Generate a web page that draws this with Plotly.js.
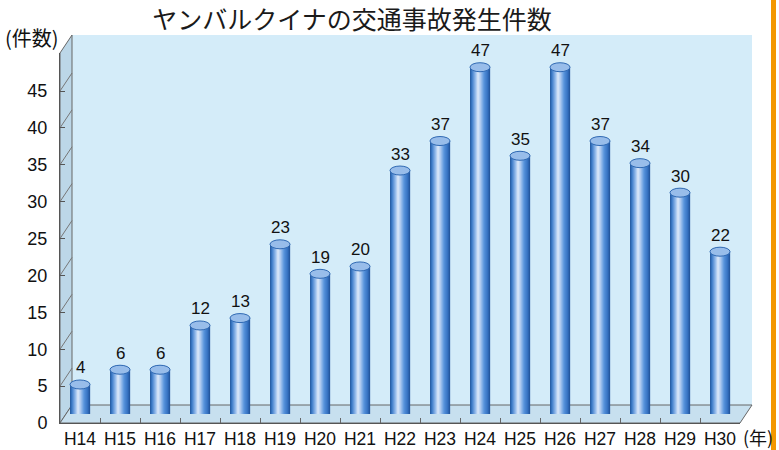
<!DOCTYPE html>
<html><head><meta charset="utf-8">
<script src="https://cdn.plot.ly/plotly-3.0.1.min.js"></script>
<style>html,body{margin:0;padding:0;background:#fff}#chart{width:779px;height:450px}</style>
</head><body><div id="chart"></div>
<script>
// ---- data ----
const years = ['H14','H15','H16','H17','H18','H19','H20','H21','H22','H23','H24','H25','H26','H27','H28','H29','H30'];
const counts = [4,6,6,12,13,23,19,20,33,37,47,35,47,37,34,30,22];
const yTicks = [0,5,10,15,20,25,30,35,40,45];
const titleText = 'ヤンバルクイナの交通事故発生件数';
const yUnitLabel = '(件数)';
const xUnitLabel = '(年)';

// ---- geometry / style ----
const W = 779, H = 450;
const FL = 60, FR = 740, FB = 423, FT = 53;   // front plane (px)
const DX = 12, DY = 18;                        // depth offset (px)
const MY = 9;                                  // bars sit at mid depth
const S = 332 / 45;                            // px per unit
const yMax = (FB - FT) / S;
const barW = 0.5;
const ry = 4.5 / S;
const px = x => x / W, py = y => 1 - y / H;
const font = 'Liberation Sans, Arial, Noto Sans CJK JP, sans-serif';
const jpFont = 'Noto Sans CJK JP, sans-serif';

const stops = [[0,'#22569c'],[0.1,'#3d7cc9'],[0.28,'#98bdec'],[0.4,'#dde9f9'],[0.52,'#afcbf0'],[0.7,'#5894dc'],[0.88,'#3571c0'],[1,'#1f5298']];
function hex(c){return [1,3,5].map(i=>parseInt(c.substr(i,2),16));}
function grad(t){
  for(let i=0;i<stops.length-1;i++){
    const [t0,c0]=stops[i],[t1,c1]=stops[i+1];
    if(t>=t0&&t<=t1){const f=(t-t0)/(t1-t0);const a=hex(c0),b=hex(c1);
      return 'rgb('+a.map((v,j)=>Math.round(v+(b[j]-v)*f)).join(',')+')';}
  }
  return stops[stops.length-1][1];
}
const N = 20;
const traces = [];
for(let k=0;k<N;k++){
  traces.push({type:'bar', x:years, y:counts, xaxis:'x3', yaxis:'y3',
    width:barW/N*1.15, offset:-barW/2 + k*barW/N,
    marker:{color:grad((k+0.5)/N), line:{width:0}}, hoverinfo:'skip', showlegend:false});
}
// front-plane axes need a trace so the subplot is built (invisible)
traces.push({type:'scatter', mode:'markers', x:years, y:counts, xaxis:'x2', yaxis:'y2',
  marker:{opacity:0, size:1}, hoverinfo:'skip', showlegend:false});

const shapes = [
  {type:'rect', xref:'paper', yref:'paper', x0:px(FL+DX), x1:px(FR+DX), y0:py(FB-DY), y1:py(FT-DY), fillcolor:'#d4ecf9', line:{width:0}, layer:'below'},
  {type:'path', xref:'paper', yref:'paper', layer:'below', fillcolor:'#bcd7e8', line:{color:'#666', width:1},
   path:`M ${px(FL)},${py(FT)} L ${px(FL+DX)},${py(FT-DY)} L ${px(FL+DX)},${py(FB-DY)} L ${px(FL)},${py(FB)} Z`},
  {type:'path', xref:'paper', yref:'paper', layer:'below', fillcolor:'#c7e0ef', line:{color:'#666', width:1},
   path:`M ${px(FL)},${py(FB)} L ${px(FL+DX)},${py(FB-DY)} L ${px(FR+DX)},${py(FB-DY)} L ${px(FR)},${py(FB)} Z`},
  {type:'rect', xref:'paper', yref:'paper', x0:px(771), x1:px(776), y0:0, y1:1, fillcolor:'#f39800', line:{width:0}}
];
yTicks.forEach(v=>{
  if(v===0) return;
  shapes.push({type:'line', xref:'paper', yref:'paper', layer:'below', line:{color:'#777', width:1},
    x0:px(FL), y0:py(FB - v*S), x1:px(FL+DX), y1:py(FB - DY - v*S)});
});
counts.forEach((v,i)=>{
  shapes.push({type:'circle', xref:'x3', yref:'y3', layer:'below', x0:i-barW/2, x1:i+barW/2, y0:-ry, y1:ry,
    fillcolor:'#2f69b3', line:{width:0}});
  shapes.push({type:'circle', xref:'x3', yref:'y3', x0:i-barW/2, x1:i+barW/2, y0:v-ry, y1:v+ry,
    fillcolor:'#98bdea', line:{color:'#2f69b3', width:1}});
});

const annotations = counts.map((v,i)=>({xref:'x3', yref:'y3', x:years[i], y:v, text:String(v),
  showarrow:false, yanchor:'bottom', yshift:5, font:{family:font, size:17, color:'#111'}}));
annotations.push({xref:'paper', yref:'paper', x:px(3), y:py(38), xanchor:'left', yanchor:'middle',
  text:yUnitLabel, showarrow:false, font:{family:jpFont, size:20, color:'#111'}});
annotations.push({xref:'paper', yref:'paper', x:px(741), y:py(437), xanchor:'left', yanchor:'middle',
  text:xUnitLabel, showarrow:false, font:{family:jpFont, size:18, color:'#111'}});

const layout = {
  width:W, height:H, margin:{l:0,r:0,t:0,b:0},
  paper_bgcolor:'#ffffff', plot_bgcolor:'rgba(0,0,0,0)',
  barmode:'overlay', showlegend:false, hovermode:false,
  title:{text:titleText, x:px(352), xanchor:'center', y:py(20), yanchor:'middle',
    font:{family:jpFont, size:25, color:'#1a1a1a'}},
  xaxis:{domain:[px(FL+DX), px(FR+DX)], anchor:'y', range:[-0.5,16.5], showgrid:false, zeroline:false,
    showticklabels:false, ticks:'', showline:true, mirror:true, linecolor:'#6d6d6d', linewidth:1},
  yaxis:{domain:[py(FB-DY), py(FT-DY)], anchor:'x', range:[0,yMax], tickvals:yTicks.slice(1), showticklabels:false,
    ticks:'', showgrid:true, gridcolor:'#95a5af', griddash:'8px,6px', gridwidth:1, zeroline:false,
    showline:true, mirror:true, linecolor:'#6d6d6d', linewidth:1},
  xaxis2:{domain:[px(FL), px(FR)], anchor:'y2', type:'category', categoryarray:years,
    range:[-0.5,16.5], showgrid:false, zeroline:false, tickangle:0,
    tickson:'boundaries', ticks:'inside', ticklen:5, tickcolor:'#666', showline:true, linecolor:'#555',
    ticklabelstandoff:0, tickfont:{family:font, size:17.5, color:'#111'}},
  yaxis2:{domain:[py(FB), py(FT)], anchor:'x2', range:[0,yMax], tickvals:yTicks, ticks:'inside', ticklen:5,
    tickcolor:'#555', showgrid:false, zeroline:false, showline:true, linecolor:'#555',
    ticklabelstandoff:8, tickfont:{family:font, size:18, color:'#111'}},
  xaxis3:{domain:[px(FL), px(FR)], anchor:'y3', type:'category', range:[-0.5,16.5], visible:false, showgrid:false, zeroline:false},
  yaxis3:{domain:[py(FB-MY), py(FT-MY)], anchor:'x3', range:[0,yMax], visible:false, showgrid:false, zeroline:false},
  shapes, annotations
};
Plotly.newPlot('chart', traces, layout, {staticPlot:true, displayModeBar:false});
</script></body></html>
